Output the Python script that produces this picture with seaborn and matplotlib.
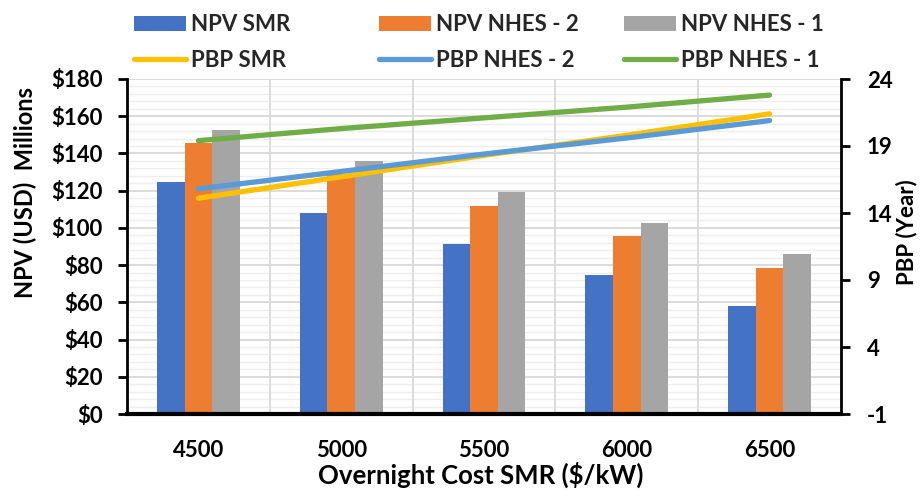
import numpy as np
import pandas as pd
import matplotlib
matplotlib.use("Agg")
import matplotlib.pyplot as plt
import seaborn as sns
from matplotlib.patches import Patch
from matplotlib.lines import Line2D
from matplotlib.ticker import MultipleLocator, FuncFormatter, FixedLocator

# ---- data ----
categories = ["4500", "5000", "5500", "6000", "6500"]
npv_smr = [124.8, 108.2, 91.5, 74.9, 58.2]
npv_nhes2 = [145.4, 128.7, 112.0, 95.5, 78.6]
npv_nhes1 = [152.6, 136.0, 119.3, 102.6, 86.0]
pbp_smr = [15.1, 16.7, 18.3, 19.8, 21.4]
pbp_nhes2 = [15.8, 17.1, 18.4, 19.6, 20.9]
pbp_nhes1 = [19.4, 20.3, 21.1, 21.9, 22.8]
pbp_ticks = [-1, 4, 9, 14, 19, 24]

bar_names = ["NPV SMR", "NPV NHES - 2", "NPV NHES - 1"]
bar_colors = ["#4472C4", "#ED7D31", "#A5A5A5"]
line_names = ["PBP SMR", "PBP NHES - 2", "PBP NHES - 1"]
line_colors = ["#FFC000", "#5B9BD5", "#70AD47"]

sns.set_theme(style="white")
plt.rcParams["font.family"] = ["Lato", "DejaVu Sans"]
plt.rcParams["font.weight"] = "bold"
plt.rcParams["axes.unicode_minus"] = False

W, H = 924, 498
fig = plt.figure(figsize=(W / 100, H / 100), dpi=100)
L, R, T, B = 127, 841, 79, 414
ax = fig.add_axes([L / W, 1 - B / H, (R - L) / W, (B - T) / H])

bar_df = pd.DataFrame({
    "cost": categories * 3,
    "npv": npv_smr + npv_nhes2 + npv_nhes1,
    "series": [n for n in bar_names for _ in categories],
})
sns.barplot(data=bar_df, x="cost", y="npv", hue="series", hue_order=bar_names,
            palette=bar_colors, saturation=1, width=0.58, gap=0, linewidth=0,
            legend=False, ax=ax, zorder=2)

ax.set_xlim(-0.5, len(categories) - 0.5)
ax.set_ylim(0, 180)
ax.yaxis.set_major_locator(MultipleLocator(20))
ax.yaxis.set_minor_locator(MultipleLocator(4))
ax.yaxis.set_major_formatter(FuncFormatter(lambda v, p: f"${v:.0f}"))
ax.xaxis.set_minor_locator(FixedLocator(np.arange(0.5, len(categories) - 1, 1.0)))
ax.set_axisbelow(True)
ax.xaxis.set_zorder(0.6)
ax.grid(False)
ax.grid(which="minor", axis="y", color="#eeeeee", linewidth=1.0)
ax.grid(which="major", axis="y", color="#d9d9d9", linewidth=1.3)
ax.grid(which="minor", axis="x", color="#d9d9d9", linewidth=1.3)

for s in ["top", "right"]:
    ax.spines[s].set_visible(False)
ax.spines["left"].set_color("black")
ax.spines["left"].set_linewidth(2)
ax.spines["bottom"].set_color("black")
ax.spines["bottom"].set_linewidth(3)
ax.tick_params(axis="y", which="major", left=True, length=6.5, width=2, color="black",
               direction="out", pad=11, labelsize=16, labelcolor="black")
ax.tick_params(axis="y", which="minor", left=False, length=0, width=0)
ax.tick_params(axis="x", which="both", bottom=False, length=0, width=0, pad=19, labelsize=16,
               labelcolor="black")

ax.set_xlabel("Overnight Cost SMR ($/kW)", fontsize=18.5, fontweight="bold", color="black",
              va="center")
ax.xaxis.set_label_coords((481 - L) / (R - L), (B - 475) / (B - T))
ax.set_ylabel("NPV (USD)  Millions", fontsize=17, fontweight="bold", color="black",
              va="center")
ax.yaxis.set_label_coords((25 - L) / (R - L), (B - 192) / (B - T))

# ---- secondary axis lines ----
ax2 = ax.twinx()
pos = list(range(len(categories)))
line_df = pd.DataFrame({
    "pos": pos * 3,
    "pbp": pbp_smr + pbp_nhes2 + pbp_nhes1,
    "series": [n for n in line_names for _ in categories],
})
sns.lineplot(data=line_df, x="pos", y="pbp", hue="series", hue_order=line_names,
             palette=line_colors, linewidth=3.8, legend=False, ax=ax2,
             solid_capstyle="round")
ax2.set_ylim(pbp_ticks[0], pbp_ticks[-1])
ax2.yaxis.set_major_locator(FixedLocator(pbp_ticks))
ax2.grid(False)
for s in ["top", "left", "bottom"]:
    ax2.spines[s].set_visible(False)
ax2.spines["right"].set_visible(True)
ax2.spines["right"].set_color("black")
ax2.spines["right"].set_linewidth(2)
ax2.tick_params(axis="y", right=True, length=6.5, width=2, color="black", direction="out",
                pad=12, labelsize=16, labelcolor="black")
ax2.tick_params(axis="y", which="minor", right=False, length=0)
ax2.set_xlabel("")
ax2.set_ylabel("PBP (Year)", fontsize=16, fontweight="bold", color="black", va="center",
               rotation=90)
ax2.yaxis.set_label_coords((907 - L) / (R - L), (B - 232) / (B - T))
ax2.set_xlim(-0.5, len(categories) - 0.5)

# ---- legend: three columns, two rows ----
col_x = [134, 379, 624]
for i in range(3):
    handles = [Patch(facecolor=bar_colors[i], edgecolor="none"),
               Line2D([0], [0], color=line_colors[i], lw=3.8, solid_capstyle="round")]
    fig.legend(handles, [bar_names[i], line_names[i]], loc="upper left",
               bbox_to_anchor=(col_x[i] / W, 1 - 14 / H), frameon=False, ncol=1,
               borderpad=0, borderaxespad=0, handlelength=2.35, handleheight=0.68,
               handletextpad=0.22, labelspacing=0.67,
               prop={"family": "Lato", "weight": "bold", "size": 16})

fig.savefig("out.png", dpi=100)
